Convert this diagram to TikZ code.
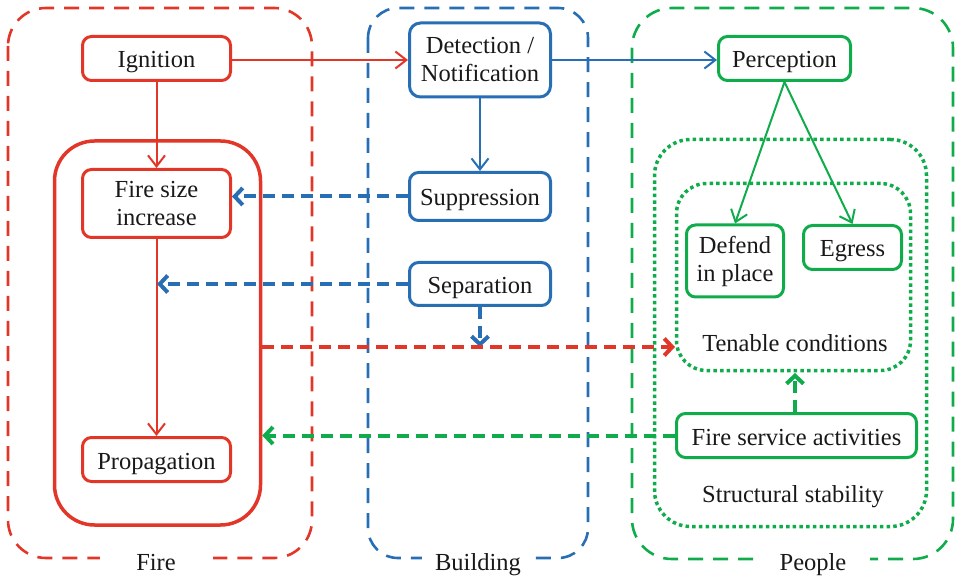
\documentclass[tikz,border=0pt]{standalone}
\usepackage{fontspec}
\setmainfont{Liberation Serif}
\usetikzlibrary{arrows.meta}
\definecolor{cr}{RGB}{226,55,40}
\definecolor{cb}{RGB}{40,110,180}
\definecolor{cg}{RGB}{16,172,76}
\definecolor{tx}{RGB}{25,25,25}
\begin{document}
\begin{tikzpicture}[x=1pt,y=-1pt,
  every node/.style={font=\fontsize{24.5}{28}\selectfont, align=center, text=tx},
  box/.style={line width=3pt, rounded corners=9pt, inner sep=0pt},
  oneline/.style={text height=19pt, text depth=0pt},
  grp/.style={draw, line width=2.6pt, dash pattern=on 15pt off 10pt},
  dotbox/.style={line width=3.5pt, dash pattern=on 3.5pt off 3.2pt},
  glabel/.style={fill=white, minimum width=113pt, inner sep=0pt, anchor=base},
  thinarr/.style={line width=2pt, -{Straight Barb[length=11pt,width=17pt]}},
  dasharr/.style={line width=4pt, dash pattern=on 12pt off 7pt, -{Straight Barb[length=8pt,width=17pt]}},
  plain/.style={font=\fontsize{24.5}{28}\selectfont, anchor=base}]
\useasboundingbox (0,0) rectangle (956,577);
% groups
\draw[grp, cr, rounded corners=38pt] (8,8) rectangle (312,558);
\draw[grp, cb, rounded corners=30pt] (368,8) rectangle (588,558);
\draw[grp, cg, rounded corners=40pt] (632,8) rectangle (953,559);
\node[glabel] (lfire) at (156,570) {Fire};
\node[glabel] (lbuild) at (478,570) {Building};
\node[glabel] (lpeople) at (813,570) {People};
% fire
\node[draw=cr, line width=3.5pt, rounded corners=40pt, minimum width=206pt, minimum height=384pt, inner sep=0pt] (firebox) at (157.5,333) {};
\node[box, oneline, draw=cr, minimum width=148pt, minimum height=44pt] (ign) at (156.5,58.5) {Ignition};
\node[box, draw=cr, minimum width=148pt, minimum height=68pt] (fsi) at (156.5,203.5) {Fire size\\increase};
\node[box, oneline, draw=cr, minimum width=148pt, minimum height=44pt] (prop) at (156.5,459.5) {Propagation};
% building
\node[box, draw=cb, minimum width=141pt, minimum height=74pt, rounded corners=11pt] (det) at (480,60) {Detection /\\Notification};
\node[box, oneline, draw=cb, minimum width=141pt, minimum height=48pt] (sup) at (480,196.5) {Suppression};
\node[box, oneline, draw=cb, minimum width=141pt, minimum height=43pt] (sep) at (480,284) {Separation};
% people
\node[dotbox, draw=cg, rounded corners=36pt, minimum width=272pt, minimum height=387pt, inner sep=0pt] (struct) at (790.5,333) {};
\node[dotbox, draw=cg, rounded corners=30pt, minimum width=234pt, minimum height=187pt, inner sep=0pt] (ten) at (793.5,277) {};
\node[plain] (tentext) at (795,352) {Tenable conditions};
\node[plain] (structtext) at (793,502) {Structural stability};
\node[box, oneline, draw=cg, minimum width=132pt, minimum height=44pt] (per) at (784.5,58.5) {Perception};
\node[box, draw=cg, minimum width=97pt, minimum height=72pt] (dip) at (735,261) {Defend\\in place};
\node[box, oneline, draw=cg, minimum width=98pt, minimum height=44pt] (egr) at (852.5,247.5) {Egress};
\node[box, oneline, draw=cg, minimum width=240pt, minimum height=44pt] (fsa) at (796.5,435.5) {Fire service activities};
% coordinates
\coordinate (rd) at (675,347);
\coordinate (fl) at (157,284);
% solid arrows
\draw[thinarr, cr] (ign) -- (fsi);
\draw[thinarr, cr] (fsi) -- (prop);
\draw[thinarr, cr] (ign.east |- 0,60) -- (det.west |- 0,60);
\draw[thinarr, cb] (det.east |- 0,60) -- (per.west |- 0,60);
\draw[thinarr, cb] (det) -- (sup);
\draw[thinarr, cg] (per.south) -- (dip.north);
\draw[thinarr, cg] (per.south) -- (egr.north);
% dashed arrows
\draw[dasharr, cb] (sup.west) -- (fsi.east |- sup.west);
\draw[dasharr, cb] (sep.west) -- (fl);
\draw[dasharr, cb] (sep.south) -- (sep.south |- rd);
\draw[dasharr, cr] (firebox.east |- rd) -- (rd);
\draw[dasharr, cg] (fsa.west) -- (firebox.east |- fsa.west);
\draw[dasharr, cg] (fsa.north -| 795,0) -- (795,373);
\end{tikzpicture}
\end{document}
